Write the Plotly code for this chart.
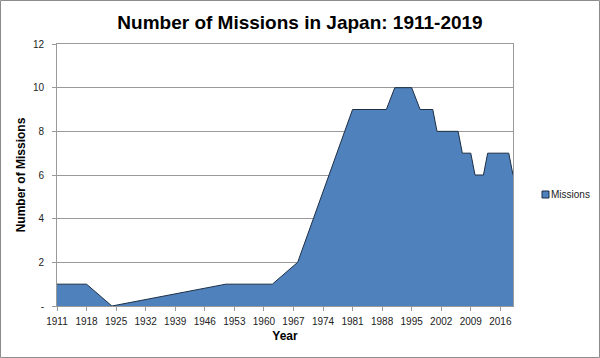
import plotly.graph_objects as go

# Data
years = [1911, 1918, 1924, 1951, 1962, 1968, 1981, 1989, 1991, 1995, 1997, 2000,
         2001, 2006, 2007, 2009, 2010, 2012, 2013, 2018, 2019]
missions = [1, 1, 0, 1, 1, 2, 9, 9, 10, 10, 9, 9,
            8, 8, 7, 7, 6, 6, 7, 7, 6]
x_tick_years = [1911, 1918, 1925, 1932, 1939, 1946, 1953, 1960, 1967, 1974,
                1981, 1988, 1995, 2002, 2009, 2016]
y_tick_vals = [0, 2, 4, 6, 8, 10, 12]
y_tick_text = ["-", "2", "4", "6", "8", "10", "12"]
series_name = "Missions"

W, H = 600, 358
L, R, T, B = 57, 87, 44, 52
pw, ph = W - L - R, H - T - B

BLUE = "#4F81BD"
EDGE = "#1c2f45"
GRID = "#9a9a9a"


def px_x(p):
    return (p - L) / pw


def px_y(p):
    return (H - B - p) / ph


fig = go.Figure()
fig.add_trace(go.Scatter(
    x=years, y=missions, mode="lines", fill="tozeroy",
    fillcolor=BLUE, line=dict(color=EDGE, width=1),
    name=series_name, showlegend=False, hoverinfo="x+y",
))

fig.update_layout(
    width=W, height=H,
    margin=dict(l=L, r=R, t=T, b=B, pad=0, autoexpand=False),
    paper_bgcolor="white", plot_bgcolor="white",
    font=dict(family="Liberation Sans, Arial, sans-serif", color="#222"),
    title=dict(text="<b>Number of Missions in Japan: 1911-2019</b>",
               x=0.5, xanchor="center", y=1 - 22 / H, yanchor="middle",
               font=dict(size=19, color="black")),
    showlegend=False,
    xaxis=dict(
        range=[1911, 2019], tickvals=x_tick_years,
        ticktext=[str(v) for v in x_tick_years],
        ticks="outside", ticklen=4, tickcolor=GRID,
        showline=True, linecolor=GRID, linewidth=1, mirror=True,
        showgrid=False, zeroline=False, automargin=False,
        tickfont=dict(size=10, color="#222"), ticklabelstandoff=2,
        title=dict(text="<b>Year</b>", font=dict(size=12, color="black"),
                   standoff=5),
    ),
    yaxis=dict(
        range=[0, 12], tickvals=y_tick_vals, ticktext=y_tick_text,
        ticks="outside", ticklen=4, tickcolor=GRID,
        showline=True, linecolor=GRID, linewidth=1, mirror=True,
        showgrid=True, gridcolor=GRID, gridwidth=1, zeroline=False,
        automargin=False,
        tickfont=dict(size=10, color="#222"), ticklabelstandoff=6,
        title=dict(text="<b>Number of Missions</b>",
                   font=dict(size=12, color="black"), standoff=4),
    ),
    shapes=[
        # outer chart border
        dict(type="rect", xref="paper", yref="paper",
             x0=px_x(0.5), x1=px_x(W - 0.5), y0=px_y(H - 0.5), y1=px_y(0.5),
             line=dict(color="#8c8c8c", width=1), fillcolor="rgba(0,0,0,0)",
             layer="below"),
        # legend swatch
        dict(type="rect", xref="paper", yref="paper",
             x0=px_x(542), x1=px_x(549), y0=px_y(198), y1=px_y(191),
             line=dict(color=EDGE, width=1), fillcolor=BLUE),
    ],
    annotations=[
        dict(text=series_name, xref="paper", yref="paper",
             x=px_x(549), y=px_y(194.5), xanchor="left", yanchor="middle",
             showarrow=False, font=dict(size=10, color="#222")),
    ],
)

fig.write_html("out.html",
               config={"displayModeBar": False},
               post_script="document.body.style.margin='0';document.body.style.padding='0';")
